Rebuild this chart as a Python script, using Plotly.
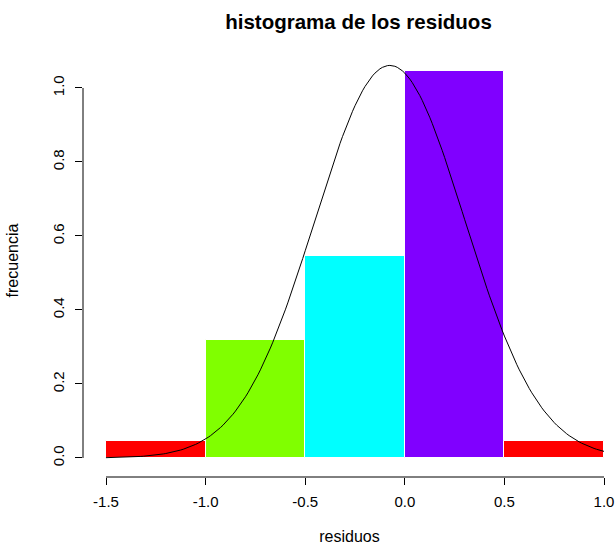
import math
import plotly.graph_objects as go

# data
breaks = [-1.5, -1.0, -0.5, 0.0, 0.5, 1.0]
densidad = [0.0455, 0.318, 0.545, 1.045, 0.0455]
colores = ["#FF0000", "#80FF00", "#00FFFF", "#8000FF", "#FF0000"]
media = -0.075
desv = 0.376
x_ticks = [-1.5, -1.0, -0.5, 0.0, 0.5, 1.0]
x_ticktext = ["-1.5", "-1.0", "-0.5", "0.0", "0.5", "1.0"]
y_ticks = [0.0, 0.2, 0.4, 0.6, 0.8, 1.0]
y_ticktext = ["0.0", "0.2", "0.4", "0.6", "0.8", "1.0"]

mids = [(breaks[i] + breaks[i + 1]) / 2 for i in range(len(densidad))]
widths = [breaks[i + 1] - breaks[i] for i in range(len(densidad))]

n = 201
cx = [breaks[0] + (breaks[-1] - breaks[0]) * i / (n - 1) for i in range(n)]
cy = [math.exp(-((v - media) ** 2) / (2 * desv ** 2)) / (desv * math.sqrt(2 * math.pi)) for v in cx]

fig = go.Figure()
fig.add_trace(go.Bar(x=mids, y=densidad, width=widths,
                     marker=dict(color=colores, line=dict(color="white", width=1)),
                     hoverinfo="skip", showlegend=False))
fig.add_trace(go.Scatter(x=cx, y=cy, mode="lines", line=dict(color="black", width=1),
                         hoverinfo="skip", showlegend=False))

font = "Liberation Sans, Arial, sans-serif"
fig.update_layout(
    width=616, height=545,
    margin=dict(l=83, r=0, t=44, b=68),
    paper_bgcolor="white", plot_bgcolor="white",
    bargap=0,
    font=dict(family=font, color="black", size=15),
    title=dict(text="<b>histograma de los residuos</b>", x=0.582, xanchor="center",
               y=0.96, yanchor="middle", font=dict(size=20.5, family=font, color="black")),
    xaxis=dict(range=[-1.6155, 1.0602], tickvals=x_ticks, ticktext=x_ticktext,
               ticks="outside", ticklen=7, tickcolor="black", showgrid=False,
               zeroline=False, showline=False, tickfont=dict(size=15), ticklabelstandoff=4,
               title=dict(text="residuos", font=dict(size=16), standoff=22)),
    yaxis=dict(range=[-0.0514, 1.1189], tickvals=y_ticks, ticktext=y_ticktext,
               ticks="outside", ticklen=7, tickcolor="black", showgrid=False,
               zeroline=False, showline=False, tickangle=-90, tickfont=dict(size=15),
               ticklabelstandoff=5,
               title=dict(text="frecuencia", font=dict(size=16), standoff=27)),
)
fig.add_shape(type="line", xref="paper", yref="y", x0=0, x1=0, y0=y_ticks[0], y1=y_ticks[-1],
              line=dict(color="black", width=1))
fig.add_shape(type="line", xref="x", yref="paper", x0=x_ticks[0], x1=x_ticks[-1], y0=0, y1=0,
              line=dict(color="black", width=1))

fig.write_html("out.html", config={"displayModeBar": False},
               post_script="document.body.style.margin='0';")
